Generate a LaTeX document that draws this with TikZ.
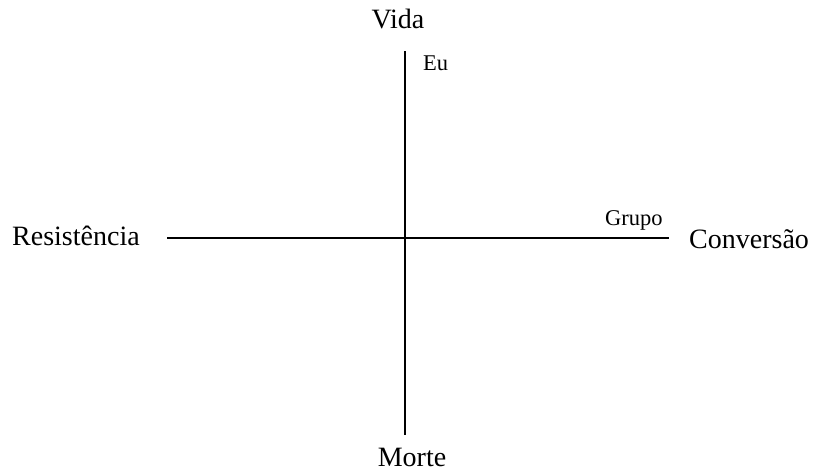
\documentclass[tikz,border=0pt]{standalone}
\usepackage{fontspec}
\setmainfont{Liberation Serif}
\begin{document}
\begin{tikzpicture}[x=1pt,y=-1pt,
  axis/.style={line width=2.8pt,black},
  big/.style={font=\fontsize{28}{31}\selectfont,inner sep=0pt},
  small/.style={font=\fontsize{22.5}{25}\selectfont,inner sep=0pt}]
\useasboundingbox (0,0) rectangle (813,472);
\coordinate (top) at (405,51);
\coordinate (bot) at (405,435);
\coordinate (lft) at (167,238);
\coordinate (rgt) at (669,238);
\draw[axis] (top) -- (bot);
\draw[axis] (lft) -- (rgt);
\node[big,anchor=base] (vida) at (398,28) {Vida};
\node[big,anchor=base] (morte) at (412,466) {Morte};
\node[big,anchor=base west] (res) at (12,245) {Resistência};
\node[big,anchor=base west] (conv) at (689,248) {Conversão};
\node[small,anchor=base west] (eu) at (423,70) {Eu};
\node[small,anchor=base west] (grupo) at (605,225) {Grupo};
\end{tikzpicture}
\end{document}
